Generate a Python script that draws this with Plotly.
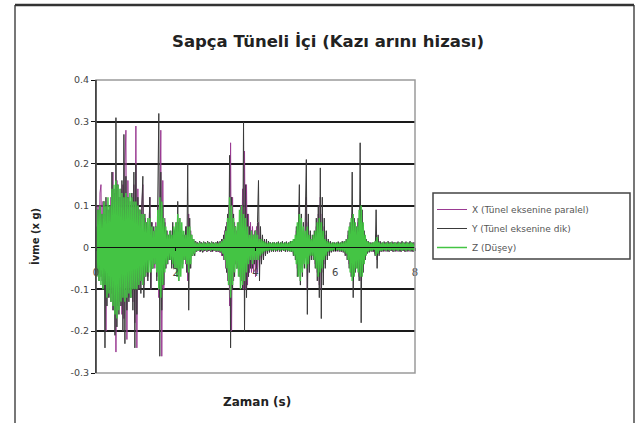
import plotly.graph_objects as go

# Sampling interval of the record (s) and record length
SAMPLE_INTERVAL = 0.025
N_SAMPLES = 321
time_s = [round(i * SAMPLE_INTERVAL, 3) for i in range(N_SAMPLES)]

series_names = ["X (Tünel eksenine paralel)", "Y (Tünel eksenine dik)", "Z (Düşey)"]

# Acceleration values (g), 20 samples per 0.5 s row
accel_x = [
    0.03, -0.05, 0.10, -0.06, 0.13, 0.15, -0.08, 0.11, -0.09, 0.08, -0.20, 0.10, -0.12, 0.09, -0.10, 0.12, -0.11, 0.18, -0.15, 0.13,
    -0.25, 0.16, -0.14, 0.12, -0.13, 0.14, -0.16, 0.15, -0.17, 0.20, 0.28, -0.22, 0.16, -0.12, 0.10, -0.11, 0.12, -0.13, 0.15, -0.18,
    0.29, -0.24, 0.14, -0.10, 0.09, -0.08, 0.10, 0.15, -0.09, 0.07, -0.06, 0.05, -0.07, 0.08, 0.12, -0.10, 0.06, -0.05, 0.04, -0.05,
    0.06, -0.07, 0.10, -0.12, 0.15, 0.28, -0.26, 0.16, -0.10, 0.07, -0.05, 0.04, -0.03, 0.03, -0.03, 0.03, -0.04, 0.05, -0.04, 0.04,
    -0.05, 0.06, -0.07, 0.06, -0.05, 0.04, -0.03, 0.03, -0.03, 0.03, -0.04, 0.05, -0.08, 0.08, -0.05, 0.04, -0.02, 0.02, -0.015, 0.015,
    -0.01, 0.012, -0.008, 0.01, -0.01, 0.012, -0.008, 0.01, -0.01, 0.012, -0.008, 0.01, -0.01, 0.012, -0.008, 0.01, -0.01, 0.012, -0.008, 0.01,
    -0.01, 0.012, -0.01, 0.012, -0.012, 0.015, -0.02, 0.02, -0.03, 0.04, -0.05, 0.06, -0.08, 0.10, -0.14, 0.25, -0.20, 0.12, -0.08, 0.06,
    -0.04, 0.04, -0.05, 0.06, -0.07, 0.10, -0.08, 0.14, -0.10, 0.23, -0.10, 0.15, -0.09, 0.08, -0.06, 0.06, -0.06, 0.05, -0.06, 0.04,
    -0.07, 0.05, -0.06, 0.06, -0.05, 0.03, -0.03, 0.02, -0.02, 0.02, -0.015, 0.012, -0.01, 0.012, -0.01, 0.01, -0.008, 0.01, -0.01, 0.01,
    -0.008, 0.01, -0.01, 0.012, -0.008, 0.01, -0.01, 0.012, -0.008, 0.01, -0.01, 0.012, -0.008, 0.01, -0.01, 0.012, -0.01, 0.012, -0.015, 0.015,
    -0.02, 0.04, -0.05, 0.07, 0.10, -0.08, 0.06, -0.05, 0.04, -0.04, 0.06, 0.12, -0.10, 0.06, -0.04, 0.03, -0.02, 0.02, -0.02, 0.03,
    -0.04, 0.05, -0.06, 0.08, -0.09, 0.12, -0.10, 0.08, -0.06, 0.05, -0.04, 0.03, -0.02, 0.015, -0.012, 0.01, -0.01, 0.01, -0.008, 0.01,
    -0.008, 0.01, -0.01, 0.012, -0.008, 0.01, -0.01, 0.012, -0.01, 0.012, -0.015, 0.015, -0.02, 0.03, -0.04, 0.05, -0.06, 0.08, -0.08, 0.06,
    -0.05, 0.04, -0.04, 0.06, -0.07, 0.08, -0.08, 0.06, -0.04, 0.03, -0.02, 0.015, -0.012, 0.01, -0.01, 0.01, -0.008, 0.01, -0.01, 0.01,
    -0.015, 0.03, -0.03, 0.02, -0.015, 0.012, -0.01, 0.01, -0.008, 0.01, -0.01, 0.012, -0.008, 0.01, -0.01, 0.012, -0.008, 0.01, -0.01, 0.012,
    -0.008, 0.01, -0.01, 0.012, -0.008, 0.01, -0.01, 0.012, -0.008, 0.01, -0.01, 0.012, -0.008, 0.01, -0.01, 0.012, -0.008, 0.01, -0.01, 0.012,
    0.0,
]

accel_y = [
    0.02, -0.06, 0.09, -0.08, 0.10, -0.07, 0.08, -0.10, 0.11, -0.24, 0.12, -0.14, 0.09, -0.12, 0.10, -0.13, 0.18, -0.15, 0.14, -0.21,
    0.31, -0.19, 0.15, -0.16, 0.12, -0.14, 0.16, -0.20, 0.27, -0.23, 0.17, -0.15, 0.12, -0.13, 0.11, -0.12, 0.13, -0.15, 0.18, -0.24,
    0.20, -0.16, 0.12, -0.10, 0.09, -0.11, 0.10, 0.17, -0.12, 0.08, -0.07, 0.06, -0.08, 0.07, 0.12, -0.10, 0.06, -0.05, 0.05, -0.04,
    0.05, -0.08, 0.12, 0.32, -0.26, 0.18, -0.15, 0.10, -0.09, 0.06, -0.05, 0.04, -0.04, 0.03, -0.03, 0.04, -0.05, 0.06, -0.05, 0.04,
    0.05, -0.06, 0.11, -0.08, 0.07, -0.05, 0.04, -0.04, 0.03, -0.03, 0.05, -0.06, 0.20, -0.15, 0.07, -0.05, 0.03, -0.02, 0.02, -0.02,
    0.015, -0.01, 0.012, -0.008, 0.015, -0.01, 0.012, -0.012, 0.014, -0.008, 0.012, -0.01, 0.015, -0.008, 0.012, -0.01, 0.014, -0.01, 0.012, -0.008,
    0.012, -0.01, 0.015, -0.01, 0.014, -0.012, 0.02, -0.02, 0.03, -0.03, 0.05, -0.06, 0.08, -0.09, 0.22, -0.24, 0.12, -0.10, 0.08, -0.07,
    0.05, -0.05, 0.04, -0.04, 0.06, -0.07, 0.09, -0.10, 0.30, -0.20, 0.15, -0.12, 0.08, -0.07, 0.05, -0.05, 0.04, -0.05, 0.03, -0.04,
    0.04, -0.05, 0.06, 0.16, -0.08, 0.05, -0.04, 0.03, -0.03, 0.02, -0.02, 0.02, -0.015, 0.015, -0.012, 0.012, -0.01, 0.012, -0.01, 0.012,
    -0.01, 0.012, -0.008, 0.014, -0.01, 0.012, -0.01, 0.015, -0.008, 0.012, -0.01, 0.014, -0.01, 0.012, -0.008, 0.015, -0.01, 0.015, -0.02, 0.02,
    -0.03, 0.05, -0.07, 0.09, 0.15, -0.09, 0.08, -0.07, 0.06, -0.05, 0.07, 0.21, -0.16, 0.08, -0.06, 0.04, -0.03, 0.03, -0.03, 0.04,
    -0.05, 0.07, -0.08, 0.10, -0.12, 0.19, -0.17, 0.12, -0.09, 0.07, -0.05, 0.04, -0.03, 0.02, -0.02, 0.015, -0.012, 0.012, -0.01, 0.012,
    -0.01, 0.012, -0.008, 0.014, -0.01, 0.012, -0.01, 0.015, -0.012, 0.015, -0.02, 0.02, -0.03, 0.04, -0.05, 0.06, -0.07, 0.18, -0.12, 0.07,
    -0.06, 0.05, -0.05, 0.07, -0.08, 0.25, -0.18, 0.09, -0.06, 0.04, -0.03, 0.02, -0.015, 0.015, -0.012, 0.012, -0.01, 0.012, -0.01, 0.012,
    -0.02, 0.09, -0.05, 0.03, -0.02, 0.015, -0.01, 0.012, -0.01, 0.014, -0.008, 0.012, -0.01, 0.015, -0.01, 0.012, -0.008, 0.014, -0.01, 0.012,
    -0.01, 0.012, -0.008, 0.014, -0.01, 0.012, -0.01, 0.015, -0.008, 0.012, -0.01, 0.014, -0.01, 0.012, -0.008, 0.015, -0.01, 0.012, -0.01, 0.012,
    0.0,
]

accel_z = [
    0.05, -0.07, 0.09, -0.08, 0.10, -0.09, 0.08, -0.10, 0.11, -0.09, 0.10, -0.12, 0.12, -0.11, 0.10, -0.13, 0.14, -0.14, 0.15, -0.16,
    0.16, -0.17, 0.15, -0.15, 0.14, -0.13, 0.13, -0.12, 0.12, -0.13, 0.13, -0.12, 0.12, -0.11, 0.13, -0.12, 0.12, -0.10, 0.11, -0.10,
    0.11, -0.10, 0.10, -0.09, 0.09, -0.08, 0.08, -0.09, 0.08, -0.07, 0.06, -0.06, 0.07, -0.06, 0.07, -0.06, 0.05, -0.05, 0.04, -0.04,
    0.05, -0.06, 0.09, -0.10, 0.12, -0.12, 0.11, -0.09, 0.07, -0.06, 0.05, -0.04, 0.03, -0.03, 0.04, -0.03, 0.03, -0.04, 0.05, -0.05,
    0.06, -0.07, 0.08, -0.08, 0.07, -0.07, 0.06, -0.05, 0.04, -0.03, 0.03, -0.04, 0.05, -0.06, 0.05, -0.04, 0.03, -0.02, 0.02, -0.015,
    0.012, -0.008, 0.01, -0.008, 0.012, -0.006, 0.01, -0.008, 0.012, -0.006, 0.01, -0.008, 0.012, -0.006, 0.01, -0.008, 0.012, -0.006, 0.01, -0.008,
    0.012, -0.008, 0.01, -0.008, 0.012, -0.01, 0.015, -0.015, 0.02, -0.03, 0.04, -0.05, 0.07, -0.09, 0.12, -0.12, 0.10, -0.09, 0.07, -0.06,
    0.05, -0.05, 0.06, -0.07, 0.09, -0.10, 0.10, -0.09, 0.08, -0.08, 0.07, -0.06, 0.05, -0.04, 0.03, -0.03, 0.04, -0.04, 0.03, -0.03,
    0.04, -0.03, 0.03, -0.03, 0.02, -0.02, 0.02, -0.015, 0.015, -0.01, 0.012, -0.008, 0.01, -0.008, 0.012, -0.006, 0.01, -0.008, 0.012, -0.006,
    0.01, -0.008, 0.012, -0.006, 0.01, -0.008, 0.012, -0.006, 0.01, -0.008, 0.012, -0.006, 0.01, -0.008, 0.012, -0.01, 0.015, -0.01, 0.02, -0.02,
    0.03, -0.04, 0.06, -0.07, 0.08, -0.08, 0.07, -0.06, 0.05, -0.04, 0.04, -0.05, 0.05, -0.04, 0.03, -0.02, 0.02, -0.02, 0.03, -0.03,
    0.04, -0.05, 0.06, -0.07, 0.07, -0.06, 0.06, -0.05, 0.04, -0.03, 0.02, -0.02, 0.015, -0.01, 0.012, -0.008, 0.01, -0.008, 0.012, -0.006,
    0.01, -0.008, 0.012, -0.006, 0.01, -0.008, 0.012, -0.008, 0.012, -0.01, 0.015, -0.015, 0.02, -0.03, 0.05, -0.06, 0.07, -0.08, 0.08, -0.07,
    0.06, -0.05, 0.05, -0.06, 0.09, -0.07, 0.10, -0.07, 0.06, -0.04, 0.03, -0.02, 0.015, -0.01, 0.012, -0.008, 0.01, -0.008, 0.012, -0.006,
    0.015, -0.02, 0.025, -0.015, 0.012, -0.008, 0.01, -0.008, 0.012, -0.006, 0.01, -0.008, 0.012, -0.006, 0.01, -0.008, 0.012, -0.006, 0.01, -0.008,
    0.012, -0.006, 0.01, -0.008, 0.012, -0.006, 0.01, -0.008, 0.012, -0.006, 0.01, -0.008, 0.012, -0.006, 0.01, -0.008, 0.012, -0.006, 0.01, -0.008,
    0.005,
]

y_tick_vals = [-0.3, -0.2, -0.1, 0, 0.1, 0.2, 0.3, 0.4]
y_tick_text = ["-0.3", "-0.2", "-0.1", "0", "0.1", "0.2", "0.3", "0.4"]
x_tick_vals = [0, 2, 4, 6, 8]
x_tick_text = ["0", "2", "4", "6", "8"]

colors = ["#9a3a92", "#3a3a3a", "#44c444"]
widths = [1, 1, 1.5]

fig = go.Figure()
for name, vals, col, w in zip(series_names, [accel_x, accel_y, accel_z], colors, widths):
    fig.add_trace(go.Scatter(x=time_s, y=vals, mode="lines", name=name,
                             line=dict(color=col, width=w)))

W, H = 638, 423
L, R, T, B = 96, 223, 80, 50
pw, ph = W - L - R, H - T - B

def px_x(x):
    return (x - L) / pw

def px_y(y):
    return (H - B - y) / ph

font = "DejaVu Sans, Verdana, sans-serif"

fig.update_layout(
    width=W, height=H,
    margin=dict(l=L, r=R, t=T, b=B, pad=0),
    paper_bgcolor="white", plot_bgcolor="white",
    font=dict(family=font, color="#333"),
    showlegend=True,
    legend=dict(x=px_x(432), y=px_y(195), xanchor="left", yanchor="top",
                bgcolor="rgba(0,0,0,0)", borderwidth=0,
                font=dict(size=9, color="#555", family=font),
                itemwidth=30, tracegroupgap=0),
    xaxis=dict(range=[0, 8], tickvals=x_tick_vals, ticktext=x_tick_text,
               anchor="free", position=0.3 / 0.7, showgrid=False, zeroline=False,
               showline=True, linecolor="#111", linewidth=1,
               ticks="outside", ticklen=3, tickcolor="#111", ticklabelstandoff=13,
               tickfont=dict(size=10, color="#444")),
    yaxis=dict(range=[-0.3, 0.4], tickvals=y_tick_vals, ticktext=y_tick_text,
               showgrid=True, gridcolor="#1a1a1a", gridwidth=1.5,
               zeroline=False, showline=True, linecolor="#111", linewidth=1,
               ticks="outside", ticklen=4, tickcolor="#111",
               tickfont=dict(size=9.5, color="#444")),
    shapes=[
        dict(type="rect", xref="paper", yref="paper", x0=0, x1=1, y0=0, y1=1,
             line=dict(color="#9a9a9a", width=1.5), layer="above"),
        dict(type="line", xref="paper", yref="paper", x0=0, x1=0, y0=0, y1=1,
             line=dict(color="#111", width=1), layer="above"),
        # chart-area frame
        dict(type="line", xref="paper", yref="paper", x0=px_x(15), x1=px_x(15),
             y0=px_y(440), y1=px_y(5), line=dict(color="#777", width=2)),
        dict(type="line", xref="paper", yref="paper", x0=px_x(634), x1=px_x(634),
             y0=px_y(440), y1=px_y(5), line=dict(color="#777", width=2)),
        dict(type="line", xref="paper", yref="paper", x0=px_x(15), x1=px_x(634),
             y0=px_y(5), y1=px_y(5), line=dict(color="#333", width=2.5)),
        # legend frame
        dict(type="rect", xref="paper", yref="paper", x0=px_x(433), x1=px_x(630),
             y0=px_y(259), y1=px_y(193), line=dict(color="#444", width=1.5),
             fillcolor="white"),
    ],
    annotations=[
        dict(text="<b>Sapça Tüneli İçi (Kazı arını hizası)</b>", xref="paper", yref="paper",
             x=px_x(328), y=px_y(41), xanchor="center", yanchor="middle", showarrow=False,
             font=dict(size=16.5, color="#222", family=font)),
        dict(text="<b>İvme (x g)</b>", xref="paper", yref="paper", textangle=-90,
             x=px_x(34), y=px_y(237), xanchor="center", yanchor="middle", showarrow=False,
             font=dict(size=10, color="#222", family=font)),
        dict(text="<b>Zaman (s)</b>", xref="paper", yref="paper",
             x=px_x(257), y=px_y(402), xanchor="center", yanchor="middle", showarrow=False,
             font=dict(size=12, color="#222", family=font)),
    ],
)

fig.write_html("out.html", config={"displayModeBar": False},
               post_script="document.body.style.margin='0';")
